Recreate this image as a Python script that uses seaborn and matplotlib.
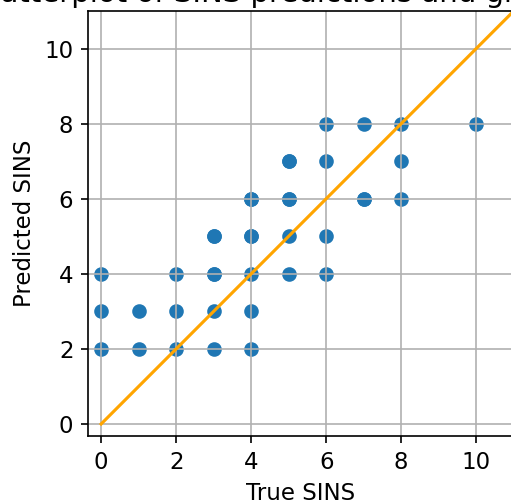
import matplotlib
matplotlib.use("Agg")
import matplotlib.pyplot as plt
import seaborn as sns
import pandas as pd

true_sins = [0, 0, 0, 1, 1, 2, 2, 2, 3, 3, 3, 3, 3, 3, 4, 4, 4, 4, 4, 4, 4,
             5, 5, 5, 5, 5, 5, 6, 6, 6, 6, 7, 7, 7, 8, 8, 8, 10]
pred_sins = [2, 3, 4, 2, 3, 2, 3, 4, 2, 3, 4, 5, 5, 4, 2, 3, 4, 5, 6, 5, 6,
             4, 5, 6, 7, 7, 6, 4, 5, 7, 8, 6, 8, 6, 6, 7, 8, 8]
ref_line = [0, 11]
x_ticks = [0, 2, 4, 6, 8, 10]
y_ticks = [0, 2, 4, 6, 8, 10]
title = "Scatterplot of SINS predictions and ground truth"

df = pd.DataFrame({"true": true_sins, "pred": pred_sins})

plt.rcParams['font.family'] = ['DejaVu Sans']
plt.rcParams['font.size'] = 11
fig = plt.figure(figsize=(511 / 150, 504 / 150), dpi=150)
ax = fig.add_axes([88 / 511, 68 / 504, 425 / 511, 425 / 504])

sns.scatterplot(data=df, x="true", y="pred", ax=ax, s=36, color="#1f77b4",
                linewidth=1, edgecolor="#1f77b4", zorder=1)
sns.lineplot(x=ref_line, y=ref_line, ax=ax, color="orange", linewidth=1.5, zorder=2)

ax.set_xlim(-0.35, 10.98)
ax.set_ylim(-0.32, 11.0)
ax.set_xticks(x_ticks)
ax.set_yticks(y_ticks)
ax.grid(True, color="#b0b0b0", linewidth=0.8)
ax.set_axisbelow("line")
ax.set_xlabel("True SINS")
ax.set_ylabel("Predicted SINS")
fig.text(318 / 511, 1 - 1.5 / 504, title, ha="center", va="baseline", fontsize=14)

fig.savefig("out.png", dpi=150)
